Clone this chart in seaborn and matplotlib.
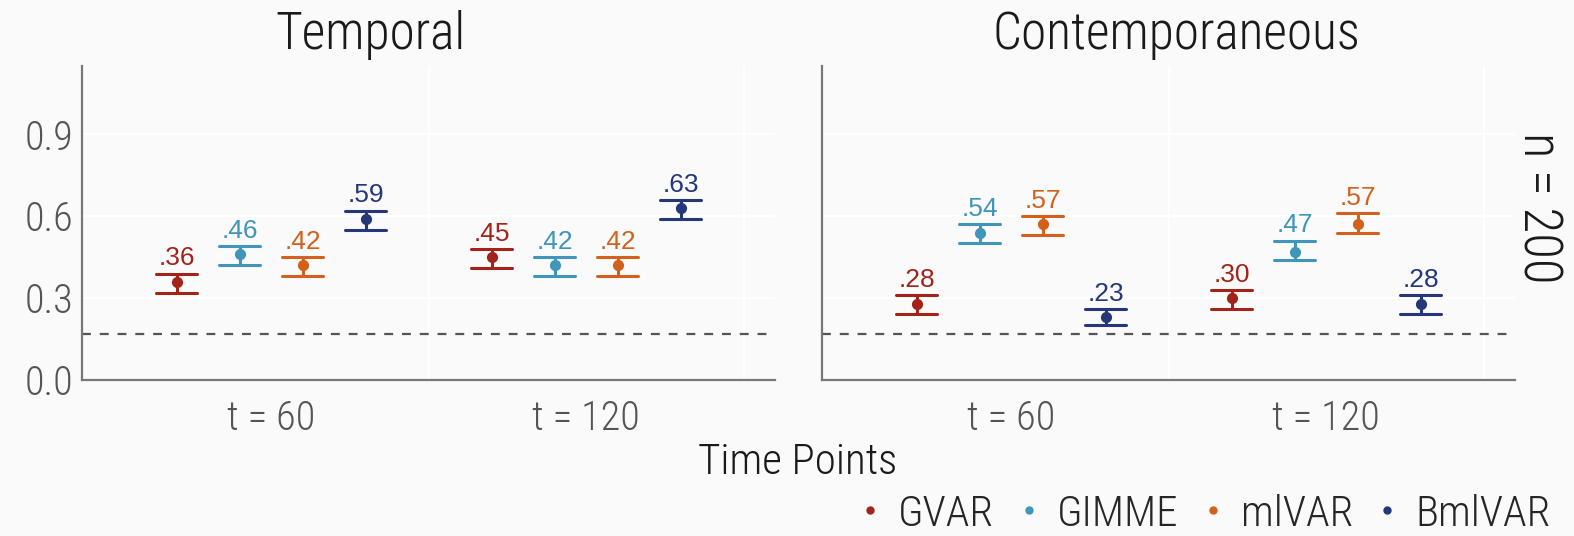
import numpy as np
import pandas as pd
import seaborn as sns
import matplotlib.pyplot as plt
from matplotlib import font_manager
from matplotlib.lines import Line2D

# data
methods = ["GVAR", "GIMME", "mlVAR", "BmlVAR"]
times = ["t = 60", "t = 120"]
panels = ["Temporal", "Contemporaneous"]

# estimates, rows = methods, cols = times
temporal_est = [[0.36, 0.45], [0.46, 0.42], [0.42, 0.42], [0.59, 0.63]]
temporal_lo = [[0.32, 0.41], [0.42, 0.38], [0.38, 0.38], [0.55, 0.59]]
temporal_hi = [[0.39, 0.48], [0.49, 0.45], [0.45, 0.45], [0.62, 0.66]]

contemp_est = [[0.28, 0.30], [0.54, 0.47], [0.57, 0.57], [0.23, 0.28]]
contemp_lo = [[0.24, 0.26], [0.50, 0.44], [0.53, 0.54], [0.20, 0.24]]
contemp_hi = [[0.31, 0.33], [0.57, 0.51], [0.60, 0.61], [0.26, 0.31]]

ref_line = 0.167

cores = ["#a3231a", "#3f95ba", "#d3611b", "#24377a"]

# pick a condensed font if there is one
nomes = {f.name for f in font_manager.fontManager.ttflist}
fonte = "DejaVu Sans"
for cand in ["Roboto Condensed", "Liberation Sans Narrow", "DejaVu Sans Condensed", "Roboto"]:
    if cand in nomes:
        fonte = cand
        break

sns.set_style("white")
plt.rcParams['font.family'] = [fonte, 'DejaVu Sans']
plt.rcParams['font.weight'] = 'light'

linhas = []
for painel, est, lo, hi in [("Temporal", temporal_est, temporal_lo, temporal_hi),
                            ("Contemporaneous", contemp_est, contemp_lo, contemp_hi)]:
    for i, m in enumerate(methods):
        for j, t in enumerate(times):
            for v in (lo[i][j], est[i][j], hi[i][j]):
                linhas.append({"panel": painel, "method": m, "time": t, "value": v})
df = pd.DataFrame(linhas)

W, H = 1574, 536
fundo = "#fafafa"
fig = plt.figure(figsize=(W / 100, H / 100), dpi=100, facecolor=fundo)
ax1 = fig.add_axes([82 / W, 1 - 380 / H, (775 - 82) / W, (380 - 66) / H])
ax2 = fig.add_axes([822 / W, 1 - 380 / H, (1515 - 822) / W, (380 - 66) / H])

dodge = 0.6
offs = np.linspace(0, dodge, len(methods)) - dodge / 2

for ax, painel, est, hi in [(ax1, "Temporal", temporal_est, temporal_hi),
                            (ax2, "Contemporaneous", contemp_est, contemp_hi)]:
    ax.set_facecolor(fundo)
    sub = df[df["panel"] == painel]
    sns.pointplot(data=sub, x="time", y="value", hue="method", order=times,
                  hue_order=methods, palette=cores, dodge=dodge, linestyle="none",
                  marker="o", markersize=6, capsize=0.13, estimator="median",
                  errorbar=lambda v: (v.min(), v.max()),
                  err_kws={"linewidth": 2.2}, legend=False, ax=ax)
    # value labels above the caps
    for i, m in enumerate(methods):
        for j, t in enumerate(times):
            ax.text(j + offs[i], hi[i][j] + 0.012, "." + f"{est[i][j]:.2f}".split(".")[1],
                    ha="center", va="bottom", color=cores[i], fontsize=19,
                    family=["Liberation Sans", "DejaVu Sans"], fontweight="normal")
    ax.axhline(ref_line, color="#555555", linestyle=(0, (4, 4)), linewidth=1.6, zorder=1)
    ax.set_xlim(-0.6, 1.6)
    ax.set_ylim(0, 1.15)
    ax.set_yticks([0.0, 0.3, 0.6, 0.9])
    ax.set_yticklabels(["0.0", "0.3", "0.6", "0.9"])
    ax.set_xticks([0.5, 1.5], minor=True)
    ax.grid(True, which="major", axis="y", color="white", linewidth=1.6)
    ax.grid(True, which="minor", axis="x", color="white", linewidth=1.6)
    ax.grid(False, which="major", axis="x")
    ax.set_axisbelow(True)
    ax.tick_params(axis="both", which="both", length=0, labelsize=29, labelcolor="#555555", pad=6)
    ax.tick_params(axis="x", pad=14)
    ax.set_xlabel("")
    ax.set_ylabel("")
    for lado in ["top", "right"]:
        ax.spines[lado].set_visible(False)
    for lado in ["left", "bottom"]:
        ax.spines[lado].set_color("#777777")
        ax.spines[lado].set_linewidth(1.6)

ax2.set_yticklabels([])

fig.text(370 / W, 1 - 35 / H, "Temporal", ha="center", va="center", fontsize=37, color="#1a1a1a")
fig.text(1176 / W, 1 - 35 / H, "Contemporaneous", ha="center", va="center", fontsize=37, color="#1a1a1a")
fig.text(1538 / W, 1 - 208 / H, "n = 200", ha="center", va="center", rotation=-90, fontsize=38, color="#1a1a1a")
fig.text(798 / W, 1 - 462 / H, "Time Points", ha="center", va="center", fontsize=31, color="#1a1a1a")

handles = [Line2D([], [], marker="o", linestyle="none", markersize=5, color=c) for c in cores]
fig.legend(handles, methods, loc="center right", bbox_to_anchor=(1572 / W, 1 - 514 / H),
           ncol=4, frameon=False, fontsize=31, handlelength=0.4, handletextpad=0.45,
           columnspacing=0.6, borderpad=0)

fig.savefig("out.png", dpi=100, facecolor=fundo)
